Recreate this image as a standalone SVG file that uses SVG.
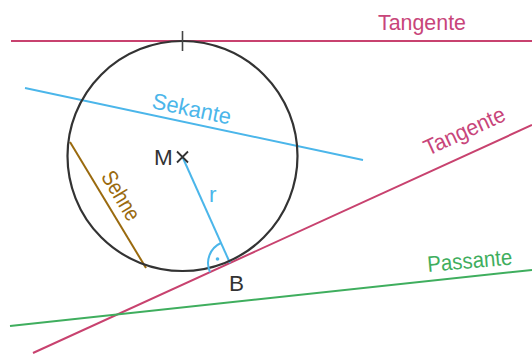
<svg xmlns="http://www.w3.org/2000/svg" width="532" height="354" viewBox="0 0 532 354">
  <style>
    .lbl { font-family: "Liberation Sans", Arial, sans-serif; font-size: 22.5px; }
    .tan { stroke: #c8426f; stroke-width: 2; fill: none; }
    .tanT { fill: #c8457a; }
    .blue { stroke: #4bb6ea; stroke-width: 2; fill: none; }
    .blueT { fill: #4bb6ea; }
  </style>
  <rect width="532" height="354" fill="#ffffff"/>
  <g id="connectors">
    <line id="tangente-oben" class="tan" x1="11" y1="41" x2="532" y2="41"/>
    <line id="tangente-b" class="tan" x1="33" y1="353" x2="532" y2="125"/>
    <line id="passante" x1="10" y1="326" x2="532" y2="270" stroke="#3fae5e" stroke-width="2"/>
    <line id="sekante" class="blue" x1="25" y1="88" x2="363" y2="160"/>
    <line id="radius" class="blue" x1="182.5" y1="157" x2="230" y2="263"/>
    <line id="sehne" x1="70" y1="142" x2="146" y2="268" stroke="#9a6a0e" stroke-width="2"/>
  </g>
  <g id="kreis">
    <circle cx="182.5" cy="156" r="115" fill="none" stroke="#333333" stroke-width="2.2"/>
    <line x1="182.5" y1="31" x2="182.5" y2="51" stroke="#444444" stroke-width="1.6"/>
  </g>
  <g id="mittelpunkt">
    <path d="M177 151.5 L188 162.5 M188 151.5 L177 162.5" stroke="#333333" stroke-width="1.8" fill="none"/>
    <text class="lbl" x="154" y="165" font-size="19" fill="#333333">M</text>
  </g>
  <g id="rechter-winkel">
    <path d="M210 272.1 A22 22 0 0 1 220.9 243" class="blue"/>
    <circle cx="217.5" cy="259" r="1.8" fill="#4bb6ea"/>
  </g>
  <g id="labels">
    <text class="lbl tanT" x="378" y="30" textLength="88" lengthAdjust="spacingAndGlyphs">Tangente</text>
    <text class="lbl tanT" transform="translate(428,156) rotate(-24.5)" textLength="87" lengthAdjust="spacingAndGlyphs">Tangente</text>
    <text class="lbl" fill="#3fae5e" transform="translate(428,272) rotate(-5)" textLength="85" lengthAdjust="spacingAndGlyphs">Passante</text>
    <text class="lbl blueT" transform="translate(151,108) rotate(12)" textLength="80" lengthAdjust="spacingAndGlyphs">Sekante</text>
    <text class="lbl" fill="#9a6a0e" font-size="15" transform="translate(100.5,176.5) rotate(58.9)" textLength="54" lengthAdjust="spacingAndGlyphs">Sehne</text>
    <text class="lbl blueT" x="209" y="202" font-size="22">r</text>
    <text class="lbl" x="229" y="291" font-size="21" fill="#333333">B</text>
  </g>
</svg>
